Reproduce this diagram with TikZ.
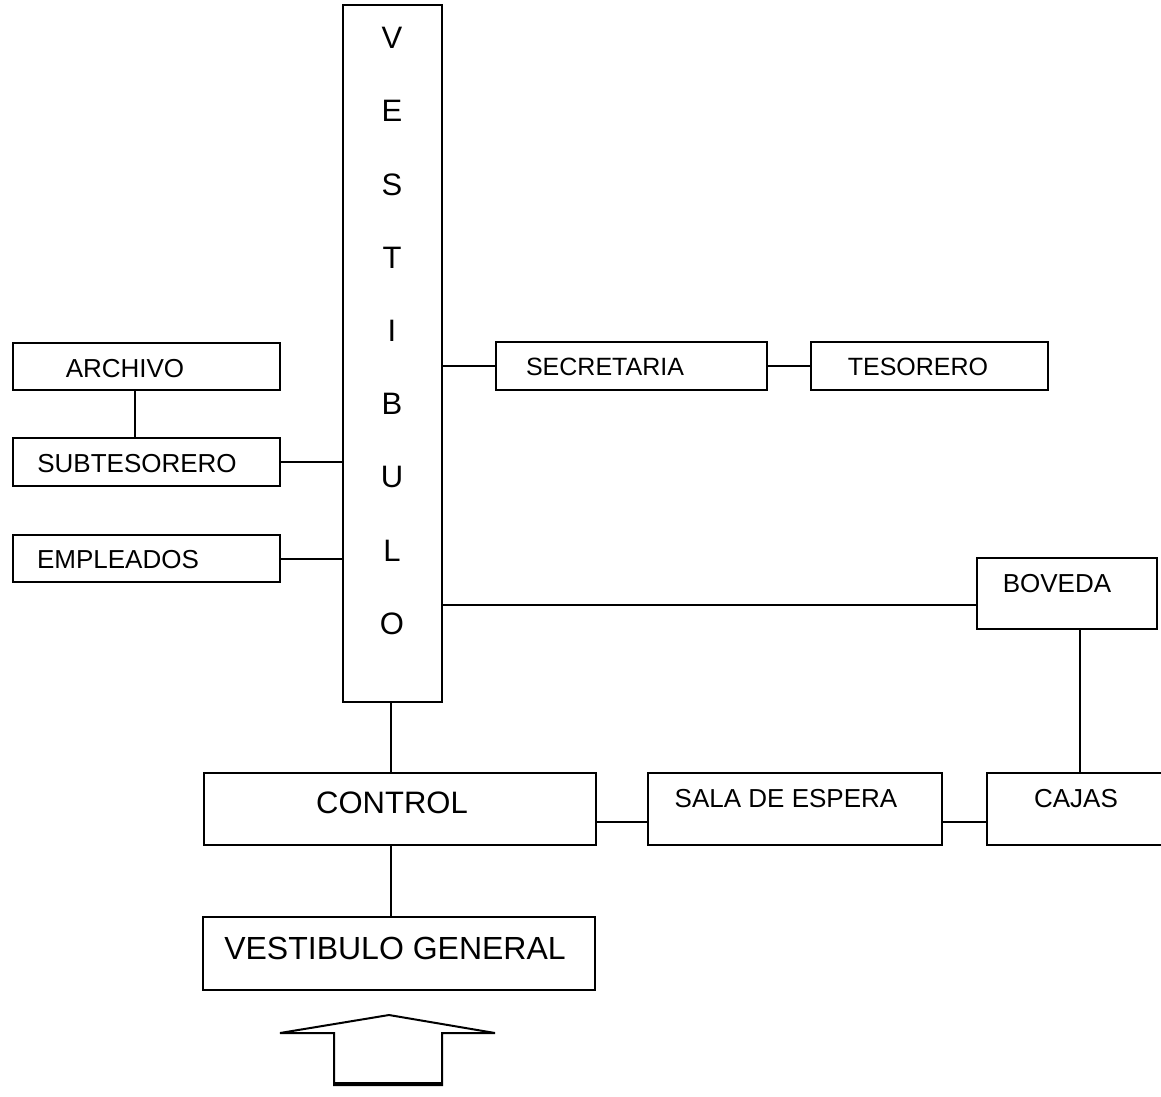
\documentclass[tikz,border=0pt]{standalone}
\usepackage{fontspec}
\setmainfont{Liberation Sans}
\begin{document}
\begin{tikzpicture}[x=1pt,y=-1pt,
  box/.style={draw,line width=2pt,rectangle,inner sep=0pt},
  lbl/.style={inner sep=0pt,font=\fontsize{26}{30}\selectfont},
  big/.style={inner sep=0pt,font=\fontsize{32}{36}\selectfont},
  letter/.style={inner sep=0pt,font=\fontsize{31}{34}\selectfont},
  conn/.style={line width=2pt}]
\useasboundingbox[fill=white] (0,0) rectangle (1161,1096);
% central vestibule
\node[box,minimum width=99pt,minimum height=697pt] (vest) at (392.5,353.5) {};
\foreach \c [count=\i from 0] in {V,E,S,T,I,B,U,L,O}{
  \node[letter] (v\i) at (392,{38+73.2*\i}) {\c};
}
% left side
\node[box,minimum width=267pt,minimum height=47pt] (archivo) at (146.5,366.5) {};
\node[lbl] (archivoT) at (125,369) {ARCHIVO};
\node[box,minimum width=267pt,minimum height=48pt] (subtesorero) at (146.5,462) {};
\node[lbl] (subtesoreroT) at (137,464) {SUBTESORERO};
\node[box,minimum width=267pt,minimum height=47pt] (empleados) at (146.5,558.5) {};
\node[lbl] (empleadosT) at (118,560) {EMPLEADOS};
% right upper
\node[box,minimum width=271pt,minimum height=48pt] (secretaria) at (631.5,366) {};
\node[lbl,font=\fontsize{25}{30}\selectfont] (secretariaT) at (605,367) {SECRETARIA};
\node[box,minimum width=237pt,minimum height=48pt] (tesorero) at (929.5,366) {};
\node[lbl,font=\fontsize{25}{30}\selectfont] (tesoreroT) at (918,367) {TESORERO};
% boveda
\node[box,minimum width=180pt,minimum height=71pt] (boveda) at (1067,593.5) {};
\node[lbl] (bovedaT) at (1057,584) {BOVEDA};
% bottom row
\node[box,minimum width=392pt,minimum height=72pt] (control) at (399.5,809) {};
\node[big,font=\fontsize{31}{36}\selectfont] (controlT) at (392,803) {CONTROL};
\node[box,minimum width=294pt,minimum height=72pt] (sala) at (795,809) {};
\node[lbl] (salaT) at (786,799) {SALA DE ESPERA};
\node[box,minimum width=180pt,minimum height=72pt] (cajas) at (1077,809) {};
\node[lbl] (cajasT) at (1076,799) {CAJAS};
\node[box,minimum width=392pt,minimum height=73pt] (vg) at (399,953.5) {};
\node[big] (vgT) at (395,948) {VESTIBULO GENERAL};
% connectors
\draw[conn] ([xshift=-11.5pt]archivo.south) -- ([xshift=-11.5pt]subtesorero.north);
\draw[conn] (subtesorero.east) -- (subtesorero.east -| vest.west);
\draw[conn] (empleados.east) -- (empleados.east -| vest.west);
\draw[conn] (secretaria.west -| vest.east) -- (secretaria.west);
\draw[conn] (secretaria.east) -- (tesorero.west);
\draw[conn] ([yshift=-11.5pt]boveda.west -| vest.east) -- ([yshift=-11.5pt]boveda.west);
\draw[conn] ([xshift=13pt]boveda.south) -- ([xshift=13pt]boveda.south |- cajas.north);
\draw[conn] ([xshift=-2pt]vest.south) -- ([xshift=-2pt]vest.south |- control.north);
\draw[conn] ([xshift=-2pt]vest.south |- control.south) -- ([xshift=-2pt]vest.south |- vg.north);
\draw[conn] ([yshift=-13pt]control.east) -- ([yshift=-13pt]sala.west);
\draw[conn] ([yshift=-13pt]sala.east) -- ([yshift=-13pt]cajas.west);
% entrance arrow
\draw[line width=2pt,line join=miter] (334,1085) -- (334,1033) -- (280,1033) -- (389,1015)
  -- (495,1033) -- (442,1033) -- (442,1085) -- cycle;
\draw[line width=4.5pt] (334,1084) -- (442,1084);
\end{tikzpicture}
\end{document}
